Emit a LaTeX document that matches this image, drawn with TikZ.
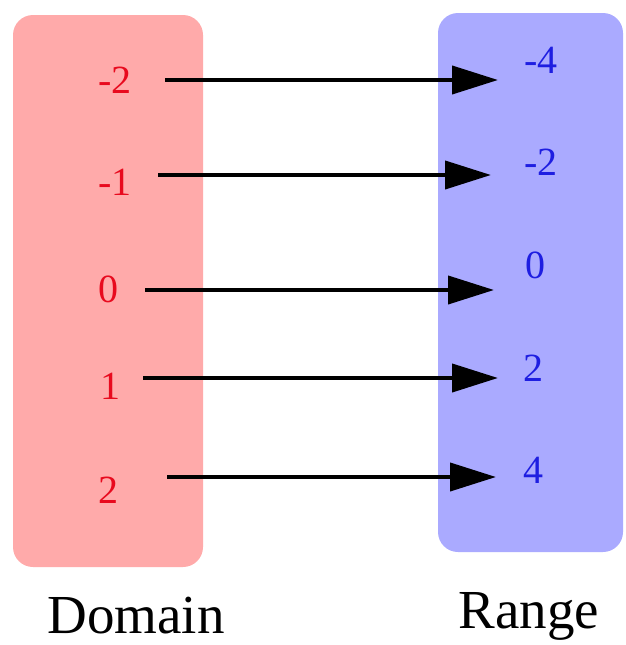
\documentclass[tikz,border=0pt]{standalone}
\usepackage{fontspec}
\setmainfont{Liberation Serif}
\usetikzlibrary{arrows.meta}
\definecolor{dombg}{RGB}{255,170,170}
\definecolor{rngbg}{RGB}{170,170,255}
\definecolor{domtxt}{RGB}{232,10,30}
\definecolor{rngtxt}{RGB}{30,30,225}
\tikzset{
  setbox/.style={rounded corners=20pt},
  dlab/.style={text=domtxt, font=\fontsize{40}{44}\selectfont, inner sep=0pt},
  rlab/.style={text=rngtxt, font=\fontsize{40}{44}\selectfont, inner sep=0pt},
  captext/.style={font=\fontsize{55}{60}\selectfont, inner sep=0pt},
  maparrow/.style={line width=4pt, -{Triangle[length=46pt,width=28pt]}}
}
\begin{document}
\begin{tikzpicture}[x=1pt,y=-1pt]
\useasboundingbox (0,0) rectangle (625,645);
\fill[dombg, setbox] (13,15) rectangle (203,567);
\fill[rngbg, setbox] (438,13) rectangle (623,552);
% domain labels
\node[dlab] (d1) at (115,80) {-2};
\node[dlab] (d2) at (115,182) {-1};
\node[dlab] (d3) at (108,289) {0};
\node[dlab] (d4) at (110,386) {1};
\node[dlab] (d5) at (108,490) {2};
% range labels
\node[rlab] (r1) at (541,60) {-4};
\node[rlab] (r2) at (541,162) {-2};
\node[rlab] (r3) at (535,265) {0};
\node[rlab] (r4) at (533,368) {2};
\node[rlab] (r5) at (533,470) {4};
% captions
\node[captext] (dom) at (136,616) {Domain};
\node[captext] (rng) at (529,616) {Range};
% arrow endpoints
\coordinate (s1) at (165,80);  \coordinate (e1) at (498,80);
\coordinate (s2) at (158,175); \coordinate (e2) at (491,175);
\coordinate (s3) at (145,290); \coordinate (e3) at (494,290);
\coordinate (s4) at (143,378); \coordinate (e4) at (498,378);
\coordinate (s5) at (167,477); \coordinate (e5) at (496,477);
\draw[maparrow] (s1) -- (e1);
\draw[maparrow] (s2) -- (e2);
\draw[maparrow] (s3) -- (e3);
\draw[maparrow] (s4) -- (e4);
\draw[maparrow] (s5) -- (e5);
\end{tikzpicture}
\end{document}
